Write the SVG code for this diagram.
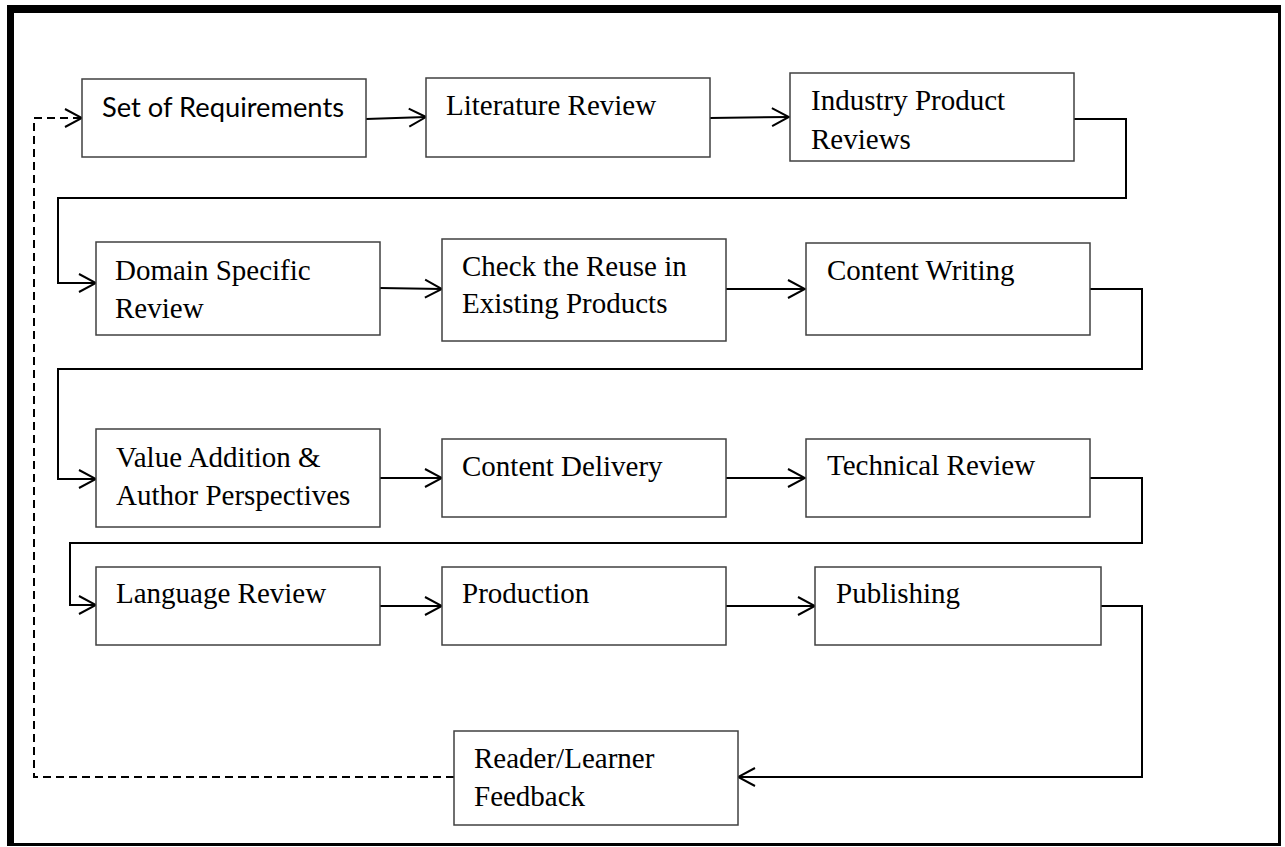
<svg xmlns="http://www.w3.org/2000/svg" width="1285" height="847" viewBox="0 0 1285 847">
<style>
.box{fill:#fff;stroke:#404040;stroke-width:1.5}
.t{font-family:"Liberation Serif","Times New Roman",serif;font-size:29px;fill:#000}
.s{font-family:Lato,"Liberation Sans",sans-serif;font-size:26px;fill:#000}
.c{fill:none;stroke:#000;stroke-width:2;marker-end:url(#arr)}
.d{stroke-dasharray:8 5}
</style>
<defs>
<marker id="arr" markerUnits="userSpaceOnUse" viewBox="0 0 19 21" refX="18" refY="10.5" markerWidth="19" markerHeight="21" orient="auto">
<path d="M1,1.5 L18,10.5 L1,19.5" fill="none" stroke="#000" stroke-width="2"/>
</marker>
</defs>
<rect width="1285" height="847" fill="#fff"/>
<g id="frame">
<rect x="7" y="5" width="7" height="841" fill="#000"/>
<rect x="7" y="5" width="1274" height="8" fill="#000"/>
<rect x="1278" y="5" width="3" height="841" fill="#000"/>
<rect x="7" y="843" width="1274" height="3" fill="#000"/>
</g>
<g id="connectors">
<path class="c" d="M366,119 L426,117"/>
<path class="c" d="M710,118 L789,117"/>
<path class="c" d="M1074,119 H1126 V198 H58 V283 H96"/>
<path class="c" d="M380,288 L442,289"/>
<path class="c" d="M726,289 H805"/>
<path class="c" d="M1090,289 H1142 V369 H58 V479 H96"/>
<path class="c" d="M380,478 H442"/>
<path class="c" d="M726,478 H805"/>
<path class="c" d="M1090,478 H1142 V543 H70 V605 H96"/>
<path class="c" d="M380,606 H442"/>
<path class="c" d="M726,606 H815"/>
<path class="c" d="M1101,606 H1142 V777 H738"/>
<path class="c d" d="M454,777 H34 V118 H82"/>
</g>
<g id="n1"><rect class="box" x="82" y="79" width="284" height="78"/><text class="s" x="102" y="117" textLength="242" lengthAdjust="spacingAndGlyphs">Set of Requirements</text></g>
<g id="n2"><rect class="box" x="426" y="78" width="284" height="79"/><text class="t" x="446" y="115">Literature Review</text></g>
<g id="n3"><rect class="box" x="790" y="73" width="284" height="88"/><text class="t" x="811" y="110">Industry Product</text><text class="t" x="811" y="149">Reviews</text></g>
<g id="n4"><rect class="box" x="96" y="242" width="284" height="93"/><text class="t" x="115" y="280">Domain Specific</text><text class="t" x="115" y="318">Review</text></g>
<g id="n5"><rect class="box" x="442" y="239" width="284" height="102"/><text class="t" x="462" y="276">Check the Reuse in</text><text class="t" x="462" y="313">Existing Products</text></g>
<g id="n6"><rect class="box" x="806" y="243" width="284" height="92"/><text class="t" x="827" y="280">Content Writing</text></g>
<g id="n7"><rect class="box" x="96" y="429" width="284" height="98"/><text class="t" x="116" y="467">Value Addition &amp;</text><text class="t" x="116" y="505">Author Perspectives</text></g>
<g id="n8"><rect class="box" x="442" y="439" width="284" height="78"/><text class="t" x="462" y="476">Content Delivery</text></g>
<g id="n9"><rect class="box" x="806" y="439" width="284" height="78"/><text class="t" x="827" y="475">Technical Review</text></g>
<g id="n10"><rect class="box" x="96" y="567" width="284" height="78"/><text class="t" x="116" y="603">Language Review</text></g>
<g id="n11"><rect class="box" x="442" y="567" width="284" height="78"/><text class="t" x="462" y="603">Production</text></g>
<g id="n12"><rect class="box" x="815" y="567" width="286" height="78"/><text class="t" x="836" y="603">Publishing</text></g>
<g id="n13"><rect class="box" x="454" y="731" width="284" height="94"/><text class="t" x="474" y="768">Reader/Learner</text><text class="t" x="474" y="806">Feedback</text></g>
</svg>
